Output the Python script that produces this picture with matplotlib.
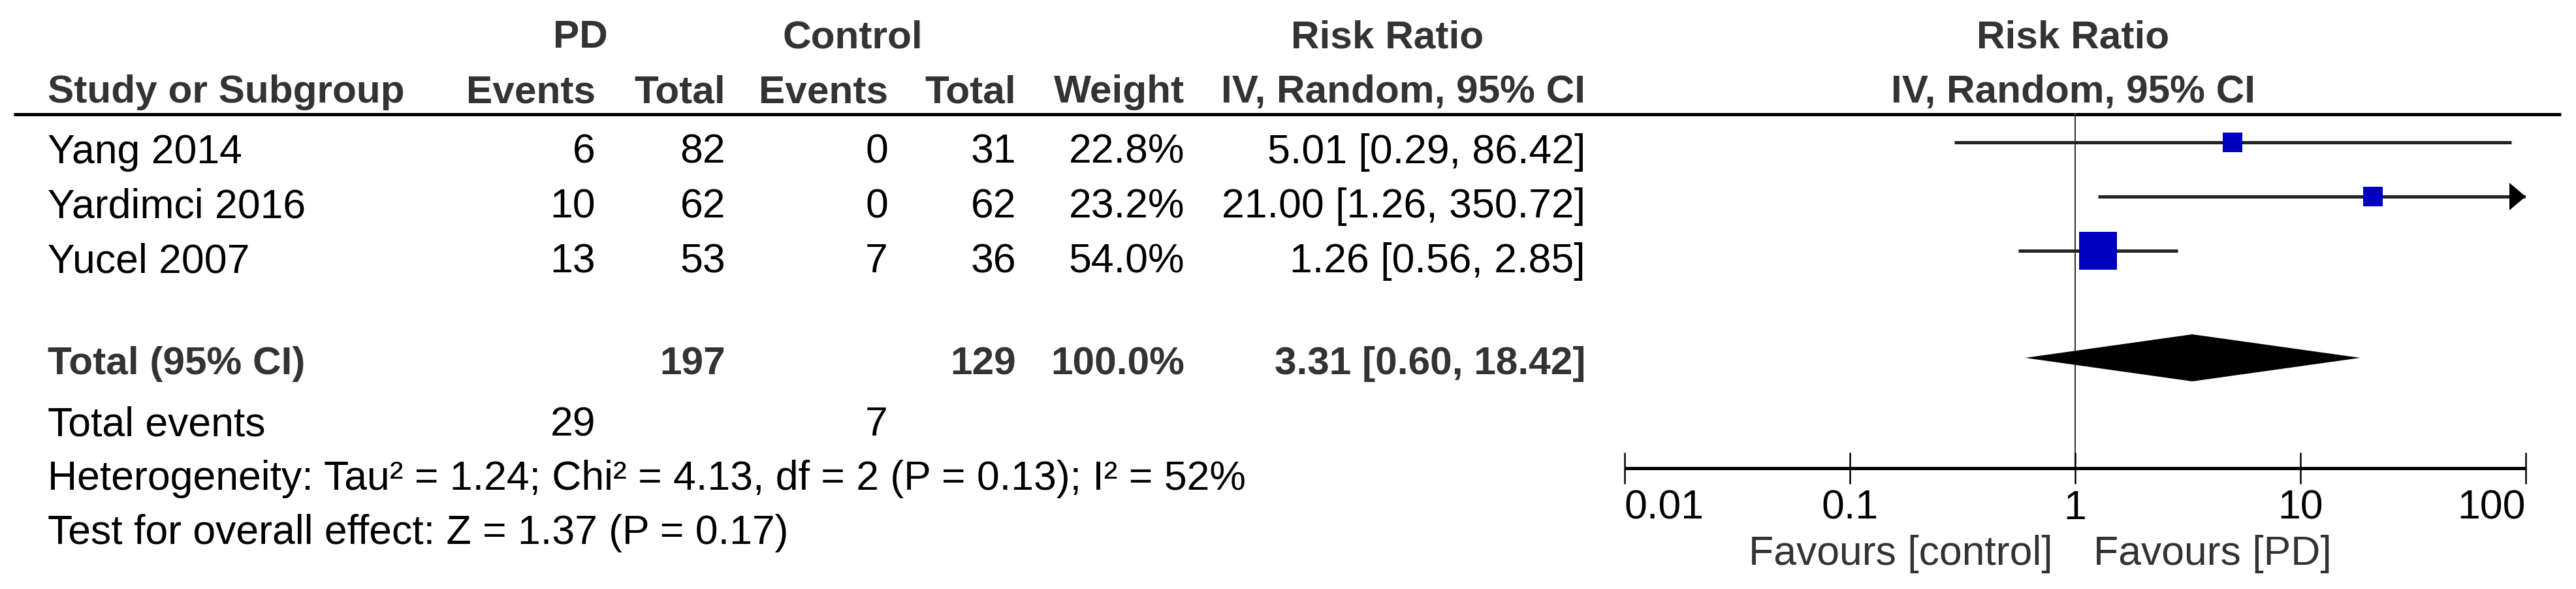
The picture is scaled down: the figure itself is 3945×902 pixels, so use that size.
import numpy as np
import matplotlib
matplotlib.use('Agg')
import matplotlib.pyplot as plt

plt.rcParams['font.family'] = ['Liberation Sans', 'DejaVu Sans']

# data
studies = ['Yang 2014', 'Yardimci 2016', 'Yucel 2007']
pd_events = [6, 10, 13]
pd_total = [82, 62, 53]
ctrl_events = [0, 0, 7]
ctrl_total = [31, 62, 36]
weight = [22.8, 23.2, 54.0]
rr = [5.01, 21.00, 1.26]
rr_lo = [0.29, 1.26, 0.56]
rr_hi = [86.42, 350.72, 2.85]

tot_pd, tot_ctrl = 197, 129
tot_ev_pd, tot_ev_ctrl = 29, 7
tot_rr, tot_lo, tot_hi = 3.31, 0.60, 18.42
het_txt = 'Heterogeneity: Tau\u00b2 = 1.24; Chi\u00b2 = 4.13, df = 2 (P = 0.13); I\u00b2 = 52%'
z_txt = 'Test for overall effect: Z = 1.37 (P = 0.17)'
ticks = [0.01, 0.1, 1, 10, 100]
tick_labels = ['0.01', '0.1', '1', '10', '100']

W, H = 3945, 902
fig = plt.figure(figsize=(W / 100, H / 100), dpi=100)
ax = fig.add_axes([0, 0, 1, 1])
ax.set_xlim(0, W)
ax.set_ylim(H, 0)
ax.axis('off')

fs = 45
fs_b = 43.5
dark = '#333333'

def t(x, y, s, ha='right', bold=False, color='black'):
    ax.text(x, y, s, ha=ha, va='baseline', fontsize=fs_b if bold else fs,
            fontweight='bold' if bold else 'normal',
            color=dark if bold else color)

# header
t(889, 73, 'PD', ha='center', bold=True)
t(1306, 73, 'Control', ha='center', bold=True)
t(2125, 73, 'Risk Ratio', ha='center', bold=True)
t(3175, 73, 'Risk Ratio', ha='center', bold=True)
t(73, 157, 'Study or Subgroup', ha='left', bold=True)
t(912, 157, 'Events', bold=True)
t(1111, 157, 'Total', bold=True)
t(1360, 157, 'Events', bold=True)
t(1556, 157, 'Total', bold=True)
t(1814, 157, 'Weight', bold=True)
t(2428, 157, 'IV, Random, 95% CI', bold=True)
t(3175, 157, 'IV, Random, 95% CI', ha='center', bold=True)
ax.plot([21, 3922], [175, 175], color='black', lw=3.6, solid_capstyle='butt')

# study rows
for i, name in enumerate(studies):
    yb = 250 + 83.5 * i
    t(73, yb, name, ha='left')
    t(912, yb, str(pd_events[i]))
    t(1111, yb, str(pd_total[i]))
    t(1360, yb, str(ctrl_events[i]))
    t(1556, yb, str(ctrl_total[i]))
    t(1814, yb, f'{weight[i]:.1f}%')
    t(2428, yb, f'{rr[i]:.2f} [{rr_lo[i]:.2f}, {rr_hi[i]:.2f}]')

# totals
t(73, 573, 'Total (95% CI)', ha='left', bold=True)
t(1111, 573, str(tot_pd), bold=True)
t(1556, 573, str(tot_ctrl), bold=True)
t(1814, 573, '100.0%', bold=True)
t(2428, 573, f'{tot_rr:.2f} [{tot_lo:.2f}, {tot_hi:.2f}]', bold=True)
t(73, 667, 'Total events', ha='left')
t(912, 667, str(tot_ev_pd))
t(1360, 667, str(tot_ev_ctrl))
t(73, 750, het_txt, ha='left')
t(73, 833, z_txt, ha='left')

# forest panel
x0, x1, ytop, ybot = 2488, 3868, 173, 717
axf = fig.add_axes([x0 / W, 1 - ybot / H, (x1 - x0) / W, (ybot - ytop) / H])
axf.set_xscale('log')
axf.set_xlim(0.01, 100)
axf.set_ylim(ybot, ytop)
axf.patch.set_alpha(0)
for s in ['top', 'left', 'right']:
    axf.spines[s].set_visible(False)
axf.spines['bottom'].set_linewidth(3.6)
axf.spines['bottom'].set_capstyle('butt')
axf.set_yticks([])
axf.set_xticks(ticks)
axf.set_xticklabels(tick_labels)
axf.xaxis.set_minor_locator(matplotlib.ticker.NullLocator())
axf.tick_params(axis='x', direction='inout', length=34, width=1.8,
                pad=6, labelsize=fs, colors='black')
labs = axf.get_xticklabels()
labs[0].set_ha('left')
labs[-1].set_ha('right')

axf.axvline(1, color=dark, lw=1.5, zorder=1)

for i in range(len(studies)):
    y = 218 + 83 * i
    hi = min(rr_hi[i], 100)
    axf.plot([rr_lo[i], hi], [y, y], color='#222222', lw=3.6,
             solid_capstyle='butt', zorder=2)
    if rr_hi[i] > 100:
        axf.fill([100 * 10 ** (-25 / 345), 100, 100 * 10 ** (-25 / 345)],
                 [y - 21, y, y + 21], color='black', lw=0, clip_on=False, zorder=3)
    side_px = 30 * (weight[i] / 22.8) ** 0.75
    axf.scatter([rr[i]], [y], marker='s', s=(side_px / 1.389) ** 2,
                color='#0000C0', lw=0, zorder=4)

yd = 548
axf.fill([tot_lo, tot_rr, tot_hi, tot_rr], [yd, yd - 36, yd, yd + 36],
         color='black', lw=0, zorder=3)

t(3144, 865, 'Favours [control]', color=dark)
t(3206, 865, 'Favours [PD]', ha='left', color=dark)

fig.savefig('out.png', dpi=100)
